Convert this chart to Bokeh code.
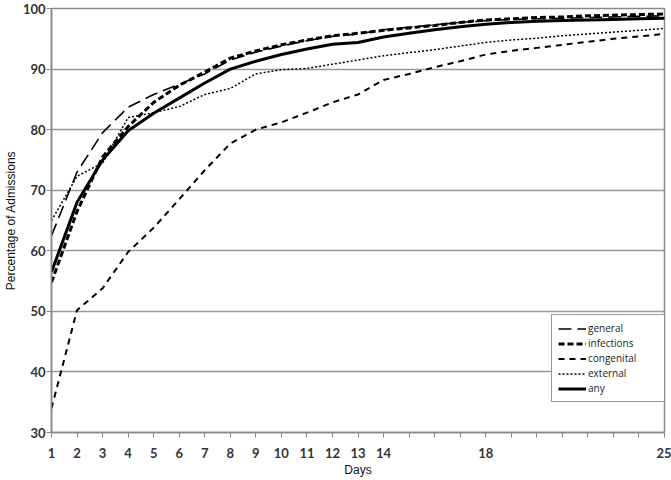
from bokeh.plotting import figure
from bokeh.models import FixedTicker, Legend, LegendItem
from bokeh.embed import file_html
from bokeh.resources import INLINE

days = list(range(1, 26))
general = [62.5, 73.0, 79.5, 83.7, 85.8, 87.5, 89.2, 91.5, 92.8, 93.8, 94.7, 95.4, 95.8,
           96.5, 96.9, 97.3, 97.7, 98.0, 98.2, 98.3, 98.4, 98.5, 98.6, 98.7, 98.8]
infections = [54.8, 66.5, 75.5, 80.5, 84.5, 87.3, 89.5, 91.8, 93.0, 94.0, 94.8, 95.5, 95.9,
              96.4, 96.8, 97.2, 97.7, 98.1, 98.3, 98.5, 98.6, 98.8, 98.9, 99.0, 99.1]
congenital = [34.0, 50.2, 53.8, 59.8, 63.8, 68.5, 73.3, 77.7, 80.0, 81.2, 82.8, 84.5, 85.8,
              88.2, 89.2, 90.3, 91.3, 92.4, 93.0, 93.5, 94.0, 94.5, 95.0, 95.4, 95.8]
external = [65.0, 72.3, 74.5, 82.0, 82.8, 83.8, 85.8, 86.8, 89.2, 89.9, 90.1, 90.8, 91.5,
            92.2, 92.7, 93.2, 93.8, 94.4, 94.8, 95.1, 95.5, 95.8, 96.1, 96.4, 96.7]
any_ = [56.5, 68.0, 75.0, 79.8, 82.7, 85.2, 87.7, 90.0, 91.3, 92.4, 93.3, 94.1, 94.4,
        95.3, 95.9, 96.5, 97.0, 97.4, 97.7, 97.9, 98.0, 98.1, 98.2, 98.3, 98.4]

x_labeled = [1, 2, 3, 4, 5, 6, 7, 8, 9, 10, 11, 12, 13, 14, 18, 25]
y_ticks = [30, 40, 50, 60, 70, 80, 90, 100]

p = figure(width=671, height=480, output_backend="svg", toolbar_location=None,
           x_range=(1, 25), y_range=(30, 100),
           min_border_left=51, min_border_right=7, min_border_top=8, min_border_bottom=48)

p.background_fill_color = "white"
p.border_fill_color = "white"
p.outline_line_color = "#888888"
p.outline_line_width = 1.5

p.xgrid.grid_line_color = None
p.ygrid.grid_line_color = "#999999"
p.ygrid.grid_line_width = 1.5

p.xaxis.ticker = FixedTicker(ticks=days)
p.xaxis.major_label_overrides = {d: (str(d) if d in x_labeled else "") for d in days}
p.yaxis.ticker = FixedTicker(ticks=y_ticks)

for ax in (p.xaxis[0], p.yaxis[0]):
    ax.axis_line_color = "#888888"
    ax.axis_line_width = 1.5
    ax.major_tick_line_color = "#888888"
    ax.major_tick_out = 5
    ax.major_tick_in = 0
    ax.minor_tick_line_color = None
    ax.major_label_text_font = "Lato"
    ax.major_label_text_font_size = "13px"
    ax.major_label_text_font_style = "bold"
    ax.major_label_text_color = "#333333"
    ax.axis_label_text_font = "Liberation Sans"
    ax.axis_label_text_font_size = "12px"
    ax.axis_label_text_font_style = "normal"
    ax.axis_label_text_color = "#111111"

p.xaxis.axis_label = "Days"
p.yaxis.axis_label = "Percentage of Admissions"
p.xaxis.major_label_standoff = 10
p.xaxis.axis_label_standoff = 2
p.yaxis.major_label_standoff = 1
p.yaxis.axis_label_standoff = 2

r_gen = p.line(days, general, line_color="black", line_width=1.6, line_dash="13 6")
r_inf = p.line(days, infections, line_color="black", line_width=3, line_dash="6 3")
r_con = p.line(days, congenital, line_color="black", line_width=2, line_dash="6 5")
r_ext = p.line(days, external, line_color="black", line_width=1.5, line_dash="2 2")
r_any = p.line(days, any_, line_color="black", line_width=3)

legend = Legend(items=[
    LegendItem(label="general", renderers=[r_gen]),
    LegendItem(label="infections", renderers=[r_inf]),
    LegendItem(label="congenital", renderers=[r_con]),
    LegendItem(label="external", renderers=[r_ext]),
    LegendItem(label="any", renderers=[r_any]),
], location=(500, 30))
legend.border_line_color = "#333333"
legend.border_line_width = 1
legend.background_fill_color = "white"
legend.background_fill_alpha = 1
legend.label_text_font = "Open Sans"
legend.label_text_font_size = "10px"
legend.label_text_color = "#222222"
legend.glyph_width = 28
legend.glyph_height = 11
legend.label_height = 11
legend.label_width = 78
legend.label_standoff = 2
legend.spacing = 1
legend.padding = 6
legend.margin = 0
p.add_layout(legend, "center")

open("out.html", "w").write(file_html(p, INLINE))
